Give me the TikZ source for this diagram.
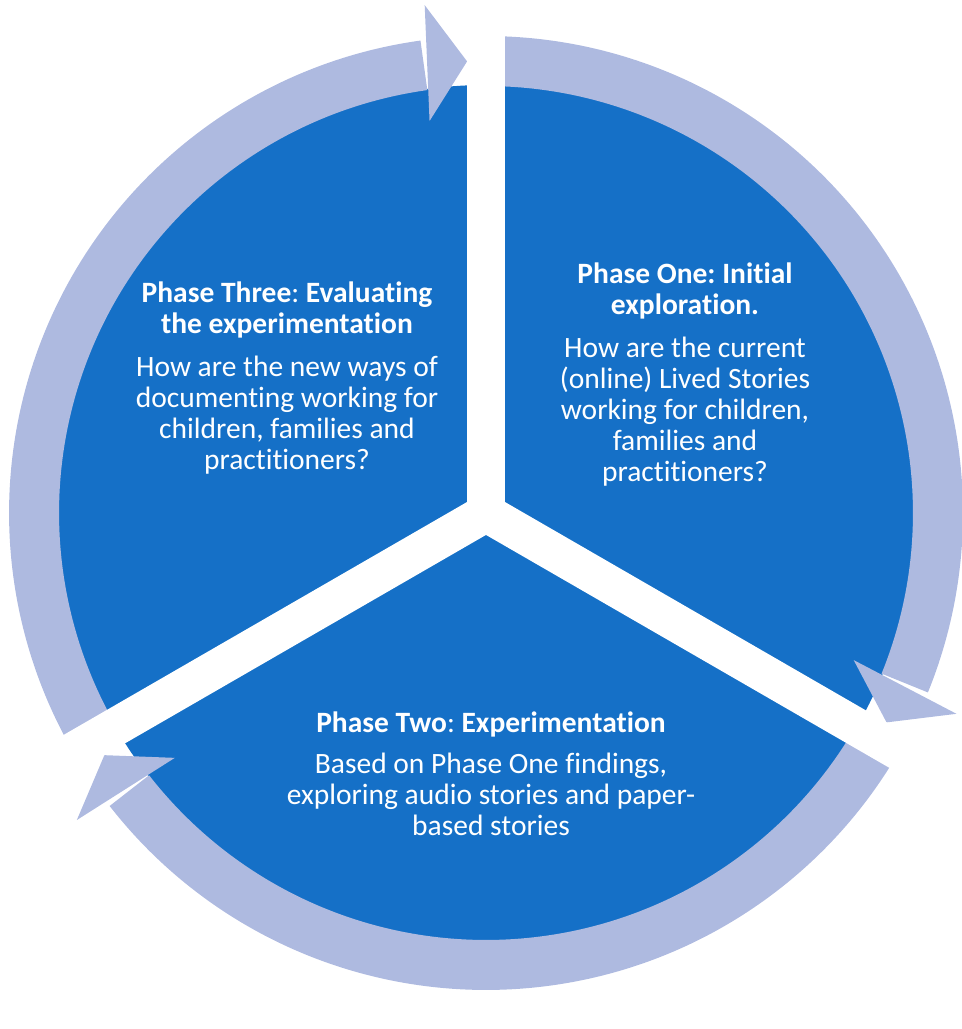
\documentclass[tikz,border=0pt]{standalone}
\usepackage{fontspec}
\setmainfont{Carlito}[Ligatures=NoCommon]
\frenchspacing
\definecolor{phaseblue}{RGB}{21,112,199}
\definecolor{ringblue}{RGB}{174,186,224}

\begin{document}
\begin{tikzpicture}[
x=1pt, y=1pt,
phasenode/.style={text=white, align=center, inner sep=0pt, anchor=north, font=\fontsize{29.5}{31}\selectfont},
ringarrow/.style={fill=ringblue},
gapbar/.style={fill=white},
]
\useasboundingbox (0,0) rectangle (962,1029);
\coordinate (c) at (486,516);

%Pie
\fill[phaseblue] (c) circle[radius=428];

%Arrows round the pie
\foreach \a in {92.4,-27.6,212.4}{
  \begin{scope}[shift={(c)},rotate=\a]
    \fill[ringarrow] (5.5:427) arc[start angle=5.5, end angle=117.6, radius=427]
      -- (117.6:477) arc[start angle=117.6, end angle=5.5, radius=477] -- cycle;
    \fill[ringarrow] (452,0) -- (394,40) -- (510,40) -- cycle;
  \end{scope}
}

%Gaps between the phases
\foreach \g in {90,-30,210}
  \fill[gapbar,shift={(c)},rotate=\g] (0,-19) rectangle (540,19);

%Nodes
\node[phasenode] (phaseone) at (685,766) {\textbf{Phase One: Initial}\\\textbf{exploration.}\\[12pt]
  How are the current\\(online) Lived Stories\\working for children,\\families and\\practitioners?};
\node[phasenode] (phasetwo) at (491,317) {\textbf{Phase Two}: \textbf{Experimentation}\\[10pt]
  Based on Phase One findings,\\exploring audio stories and paper-\\based stories};
\node[phasenode] (phasethree) at (287,747) {\textbf{Phase Three}: \textbf{Evaluating}\\\textbf{the experimentation}\\[12pt]
  How are the new ways of\\documenting working for\\children, families and\\practitioners?};
\end{tikzpicture}
\end{document}
